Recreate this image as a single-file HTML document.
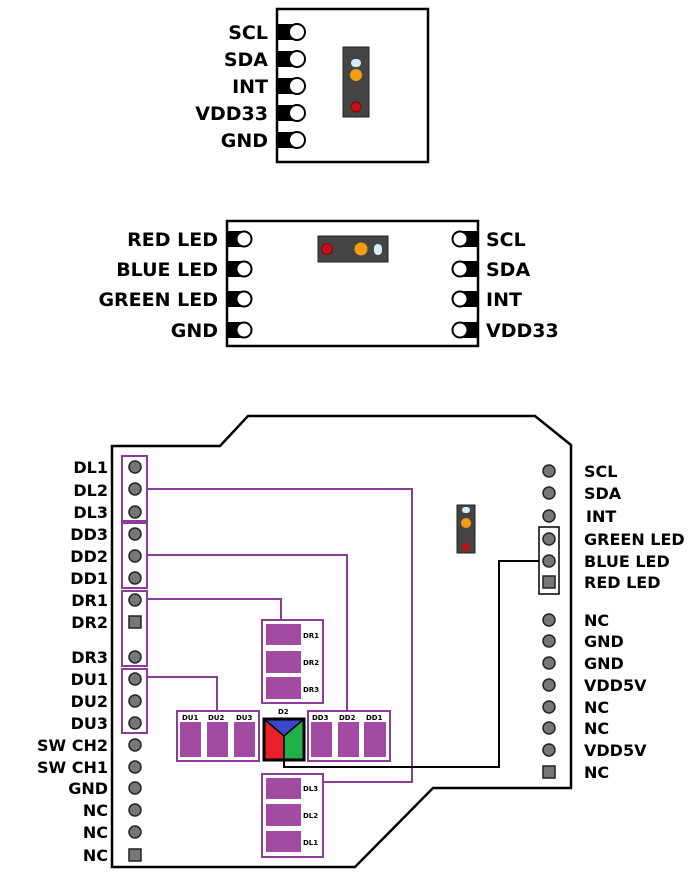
<!DOCTYPE html><html><head><style>body{margin:0;background:#fff}svg{display:block}text{font-family:"DejaVu Sans","Liberation Sans",sans-serif;font-weight:bold}</style></head><body>
<svg width="700" height="884" viewBox="0 0 700 884" xmlns="http://www.w3.org/2000/svg">
<!-- module 1 -->
<rect x="277" y="9" width="151" height="153" fill="#fff" stroke="#000" stroke-width="2.5"/>
<g font-size="19" text-anchor="end">
<text x="268" y="39">SCL</text><text x="268" y="66">SDA</text><text x="268" y="93">INT</text><text x="268" y="120">VDD33</text><text x="268" y="147">GND</text></g>
<g fill="#000"><rect x="277" y="24" width="20" height="16"/><rect x="277" y="51" width="20" height="16"/><rect x="277" y="78" width="20" height="16"/><rect x="277" y="105" width="20" height="16"/><rect x="277" y="132" width="20" height="16"/></g>
<g fill="#fff" stroke="#000" stroke-width="2"><circle cx="297" cy="32" r="8"/><circle cx="297" cy="59" r="8"/><circle cx="297" cy="86" r="8"/><circle cx="297" cy="113" r="8"/><circle cx="297" cy="140" r="8"/></g>
<rect x="343" y="47" width="26" height="70" fill="#444" stroke="#222"/>
<rect x="351" y="59" width="10" height="8" rx="4" fill="#d6ecf3"/>
<circle cx="356" cy="75" r="6" fill="#f39c12"/>
<circle cx="356" cy="107" r="5" fill="#c0101e" stroke="#800"/>
<!-- module 2 -->
<rect x="227" y="221" width="251" height="125" fill="#fff" stroke="#000" stroke-width="2.5"/>
<g font-size="19" text-anchor="end"><text x="218" y="246">RED LED</text><text x="218" y="276">BLUE LED</text><text x="218" y="306">GREEN LED</text><text x="218" y="337">GND</text></g>
<g font-size="19"><text x="486" y="246">SCL</text><text x="486" y="276">SDA</text><text x="486" y="306">INT</text><text x="486" y="337">VDD33</text></g>
<g fill="#000"><rect x="227" y="231" width="16" height="16"/><rect x="227" y="261" width="16" height="16"/><rect x="227" y="291" width="16" height="16"/><rect x="227" y="322" width="16" height="16"/>
<rect x="461" y="231" width="17" height="16"/><rect x="461" y="261" width="17" height="16"/><rect x="461" y="291" width="17" height="16"/><rect x="461" y="322" width="17" height="16"/></g>
<g fill="#fff" stroke="#000" stroke-width="2"><circle cx="244" cy="239" r="7.5"/><circle cx="244" cy="269" r="7.5"/><circle cx="244" cy="299" r="7.5"/><circle cx="244" cy="330" r="7.5"/>
<circle cx="460" cy="239" r="7.5"/><circle cx="460" cy="269" r="7.5"/><circle cx="460" cy="299" r="7.5"/><circle cx="460" cy="330" r="7.5"/></g>
<rect x="318" y="236" width="70" height="26" fill="#444" stroke="#222"/>
<circle cx="327" cy="249" r="5.5" fill="#c0101e" stroke="#800"/>
<circle cx="361" cy="249" r="6.5" fill="#f39c12"/>
<rect x="374" y="244" width="8" height="11" rx="4" fill="#d6ecf3"/>
<!-- board -->
<polygon points="112,446 220,446 248,416 535,416 571,445 571,788 433,788 355,867 112,867" fill="#fff" stroke="#000" stroke-width="2.5"/>
<g font-size="16" text-anchor="end">
<text x="108" y="473">DL1</text><text x="108" y="496">DL2</text><text x="108" y="518">DL3</text><text x="108" y="540">DD3</text><text x="108" y="562">DD2</text><text x="108" y="584">DD1</text><text x="108" y="606">DR1</text><text x="108" y="628">DR2</text><text x="108" y="663">DR3</text><text x="108" y="685">DU1</text><text x="108" y="707">DU2</text><text x="108" y="729">DU3</text><text x="108" y="751">SW CH2</text><text x="108" y="773">SW CH1</text><text x="108" y="794">GND</text><text x="108" y="816">NC</text><text x="108" y="838">NC</text><text x="108" y="861">NC</text></g>
<g font-size="16"><text x="584" y="477">SCL</text><text x="584" y="499">SDA</text><text x="586" y="522">INT</text><text x="584" y="545">GREEN LED</text><text x="584" y="567">BLUE LED</text><text x="584" y="588">RED LED</text><text x="584" y="626">NC</text><text x="584" y="647">GND</text><text x="584" y="669">GND</text><text x="584" y="691">VDD5V</text><text x="584" y="713">NC</text><text x="584" y="734">NC</text><text x="584" y="756">VDD5V</text><text x="584" y="778">NC</text></g>
<g fill="none" stroke="#8e3c99" stroke-width="2">
<rect x="122" y="456" width="25" height="65"/><rect x="122" y="523" width="25" height="65"/><rect x="122" y="591" width="25" height="75"/><rect x="122" y="669" width="25" height="64"/>
<polyline points="147,489 412,489 412,782 323,782"/>
<polyline points="147,555 347,555 347,711"/>
<polyline points="147,599 281,599 281,620"/>
<polyline points="147,677 217,677 217,711"/>
<rect x="262" y="620" width="61" height="83"/><rect x="177" y="711" width="82" height="50"/><rect x="308" y="711" width="82" height="50"/><rect x="262" y="774" width="61" height="83"/>
</g>
<g fill="#a34aa3">
<rect x="266" y="624" width="35" height="21"/><rect x="266" y="651" width="35" height="22"/><rect x="266" y="677" width="35" height="22"/>
<rect x="266" y="778" width="35" height="21"/><rect x="266" y="804" width="35" height="22"/><rect x="266" y="831" width="35" height="21"/>
<rect x="180" y="722" width="21" height="35"/><rect x="207" y="722" width="21" height="35"/><rect x="234" y="722" width="21" height="35"/>
<rect x="311" y="722" width="21" height="35"/><rect x="338" y="722" width="21" height="35"/><rect x="364" y="722" width="22" height="35"/></g>
<g font-size="7"><text x="303" y="638">DR1</text><text x="303" y="665">DR2</text><text x="303" y="692">DR3</text><text x="303" y="791">DL3</text><text x="303" y="818">DL2</text><text x="303" y="845">DL1</text>
<text x="182" y="720">DU1</text><text x="208" y="720">DU2</text><text x="236" y="720">DU3</text><text x="312" y="720">DD3</text><text x="339" y="720">DD2</text><text x="366" y="720">DD1</text><text x="278" y="714">D2</text></g>
<polygon points="264,719 304,719 284,736" fill="#3b48c8"/>
<polygon points="264,719 284,736 284,760 264,760" fill="#e8202a"/>
<polygon points="304,719 284,736 284,760 304,760" fill="#22b04a"/>
<polyline points="264,719 284,736 304,719" fill="none" stroke="#000" stroke-width="1.5"/>
<line x1="284" y1="736" x2="284" y2="760" stroke="#000" stroke-width="1.5"/>
<rect x="264" y="719" width="40" height="41" fill="none" stroke="#000" stroke-width="3"/>
<polyline points="284,760 284,767 499,767 499,561 539,561" fill="none" stroke="#000" stroke-width="2"/>
<rect x="539" y="527" width="20" height="67" fill="#fff" stroke="#000" stroke-width="1.5"/>
<g fill="#777" stroke="#222" stroke-width="1.5">
<circle cx="135" cy="467" r="6"/><circle cx="135" cy="489" r="6"/><circle cx="135" cy="512" r="6"/><circle cx="135" cy="534" r="6"/><circle cx="135" cy="556" r="6"/><circle cx="135" cy="578" r="6"/><circle cx="135" cy="600" r="6"/><rect x="129" y="616" width="12" height="12"/><circle cx="135" cy="657" r="6"/><circle cx="135" cy="679" r="6"/><circle cx="135" cy="701" r="6"/><circle cx="135" cy="723" r="6"/><circle cx="135" cy="745" r="6"/><circle cx="135" cy="767" r="6"/><circle cx="135" cy="788" r="6"/><circle cx="135" cy="810" r="6"/><circle cx="135" cy="832" r="6"/><rect x="129" y="849" width="12" height="12"/>
<circle cx="549" cy="471" r="6"/><circle cx="549" cy="493" r="6"/><circle cx="549" cy="516" r="6"/><circle cx="549" cy="539" r="6"/><circle cx="549" cy="561" r="6"/><rect x="543" y="576" width="12" height="12"/><circle cx="549" cy="620" r="6"/><circle cx="549" cy="641" r="6"/><circle cx="549" cy="663" r="6"/><circle cx="549" cy="685" r="6"/><circle cx="549" cy="707" r="6"/><circle cx="549" cy="728" r="6"/><circle cx="549" cy="750" r="6"/><rect x="543" y="766" width="12" height="12"/></g>
<rect x="457" y="505" width="18" height="48" fill="#444" stroke="#222"/>
<rect x="462" y="507" width="8" height="6" rx="3" fill="#d6ecf3"/>
<circle cx="466" cy="523" r="5" fill="#f39c12"/>
<circle cx="466" cy="547" r="4" fill="#c0101e"/>
</svg></body></html>
